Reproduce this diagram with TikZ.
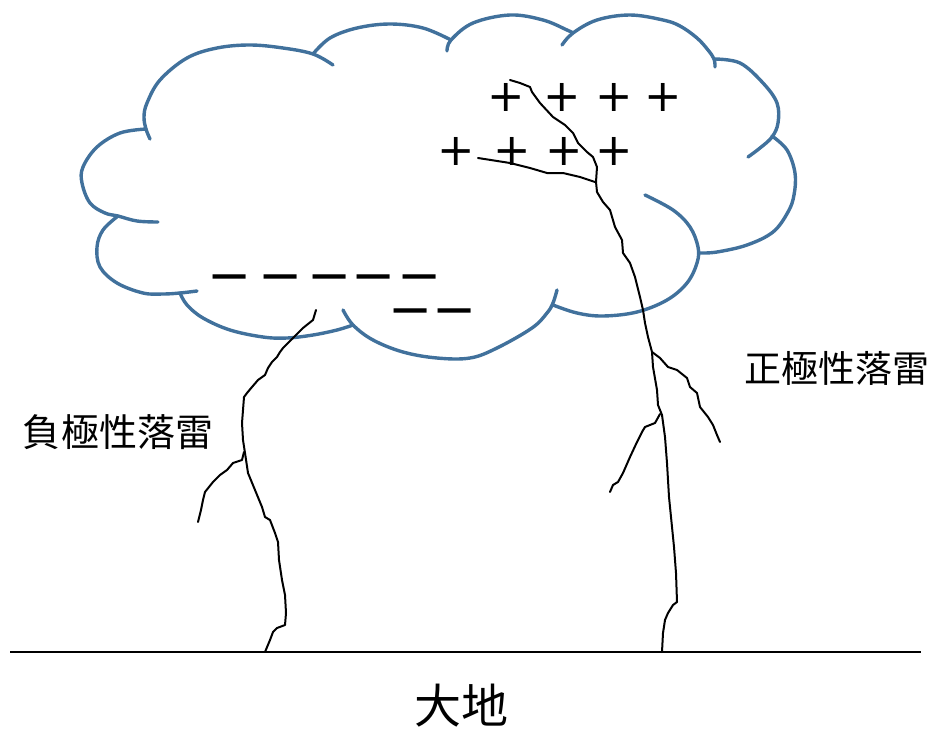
\documentclass[tikz,border=0pt]{standalone}
\usepackage{fontspec}
\newfontfamily\cjk{Noto Sans CJK TC}
\newfontfamily\symfont{DejaVu Sans}
\definecolor{cloudblue}{RGB}{65,113,156}
\begin{document}
\begin{tikzpicture}[x=1pt,y=-1pt,
  cloudline/.style={draw=cloudblue,line width=3.4pt,line cap=round},
  bolt/.style={draw=black,line width=2pt,line join=round,line cap=round},
  plussign/.style={inner sep=0pt,font=\symfont\fontsize{44.7}{44.7}\selectfont},
  minussign/.style={inner sep=0pt,font=\symfont\fontsize{52.7}{52.7}\selectfont},
  cjklabel/.style={inner sep=0pt,font=\cjk\fontsize{#1}{#1}\selectfont},
  ground/.style={draw=black,line width=2pt}
]
\useasboundingbox (0,0) rectangle (931,731);

% cloud: eleven lobes, each continuing a little past its cusp
\draw[cloudline] plot[smooth,tension=0.6] coordinates {(150,139) (146,129) (144,117) (147,103) (160,80) (187,58) (217,48) (250,45) (283,48) (313,54) (333,65)};
\draw[cloudline] plot[smooth,tension=0.6] coordinates {(313,54) (330,38) (357,28) (390,24) (423,28) (451,40)};
\draw[cloudline] plot[smooth,tension=0.6] coordinates {(447,51) (451,40) (473,23) (510,15) (543,20) (567,30) (573,33)};
\draw[cloudline] plot[smooth,tension=0.6] coordinates {(562,45) (573,33) (597,20) (630,15) (663,20) (680,26) (697,38) (708,50) (714,59) (715,67)};
\draw[cloudline] plot[smooth,tension=0.6] coordinates {(714,59) (740,63) (763,83) (777,103) (778,123) (772,137) (760,148) (748,157)};
\draw[cloudline] plot[smooth,tension=0.6] coordinates {(772,136) (787,150) (795,173) (794,195) (788,212) (773,232) (747,245) (717,252) (700,253)};
\draw[cloudline] plot[smooth,tension=0.6] coordinates {(645,195) (673,210) (690,227) (698,247) (697,263) (687,283) (667,300) (637,312) (603,316) (577,313) (553,305)};
\draw[cloudline] plot[smooth,tension=0.6] coordinates {(343,310) (353,325) (373,340) (403,352) (437,358) (470,358) (497,348) (532,328) (547,313) (553,303) (557,290)};
\draw[cloudline] plot[smooth,tension=0.6] coordinates {(180,293) (187,305) (203,318) (230,330) (263,337) (287,338) (313,335) (337,330) (353,325)};
\draw[cloudline] plot[smooth,tension=0.6] coordinates {(118,216) (103,230) (97,247) (100,267) (117,283) (143,293) (163,294) (180,293) (197,291)};
\draw[cloudline] plot[smooth,tension=0.6] coordinates {(146,129) (120,133) (97,147) (83,167) (82,183) (90,203) (105,213) (118,216) (137,221) (158,222)};

% positive charges
\foreach \px/\py [count=\i] in {506/97,562/97,614/97,663/97,456/151,512/151,564/151,614/151}
  \node[plussign] (plus\i) at (\px,\py) {+};

% negative charges (smashed glyph: node centre sits on the baseline, 16.5pt below the bar)
\foreach \mx/\my [count=\i] in {229.5/277,280.5/277,329.5/277,373.5/277,419.5/277,410.5/311,455/311}
  \node[minussign] (minus\i) at (\mx,\my+16.5) {\smash{−}};

% ground
\coordinate (gl) at (10,652);
\coordinate (gr) at (921,652);
\draw[ground] (gl) -- (gr);

% negative flash
\draw[bolt] (316,310) -- (313,320) -- (303,328) -- (293,338) -- (283,348) -- (280,352) -- (277,357) -- (272,362) -- (268,368) -- (265,375) -- (258,380) -- (252,387) -- (247,393) -- (244,397) -- (243,410) -- (242,423) -- (243,440) -- (245,453) -- (248,473) -- (255,490) -- (262,507) -- (265,517) -- (270,520) -- (275,533) -- (278,542) -- (279,560) -- (282,580) -- (285,595) -- (286,613) -- (285,625) -- (277,628) -- (273,632) -- (270,640) -- (265,652);
\draw[bolt] (244,452) -- (242,460) -- (233,463) -- (227,470) -- (220,475) -- (213,482) -- (205,492) -- (203,500) -- (201,510) -- (198,522);

% positive flash
\draw[bolt] (510,80) -- (520,83) -- (530,87) -- (532,92) -- (540,103) -- (553,117) -- (565,125) -- (573,133) -- (578,143) -- (587,152) -- (593,157) -- (597,167) -- (596,182) -- (597,192) -- (603,202) -- (610,210) -- (615,227) -- (622,240) -- (623,253) -- (630,263) -- (635,277) -- (640,297) -- (643,310) -- (645,323) -- (648,337) -- (652,352) -- (653,367) -- (657,390) -- (658,405) -- (662,415) -- (665,437) -- (667,463) -- (669,497) -- (672,527) -- (674,547) -- (676,573) -- (677,602) -- (673,605) -- (668,613) -- (665,620) -- (663,633) -- (662,652);
\draw[bolt] (478,158) -- (510,163) -- (530,168) -- (547,173) -- (563,173) -- (580,177) -- (595,182);
\draw[bolt] (652,352) -- (660,358) -- (668,367) -- (677,370) -- (687,378) -- (690,387) -- (697,393) -- (700,407) -- (708,417) -- (713,425) -- (717,435) -- (720,442);
\draw[bolt] (660,414) -- (655,423) -- (645,427) -- (642,432) -- (637,442) -- (630,457) -- (623,473) -- (618,482) -- (613,485) -- (610,492);

% labels
\node[cjklabel=38] (neglabel) at (118,432) {負極性落雷};
\node[cjklabel=37] (poslabel) at (837,368) {正極性落雷};
\node[cjklabel=47] (earth) at (461,706) {大地};
\end{tikzpicture}
\end{document}
